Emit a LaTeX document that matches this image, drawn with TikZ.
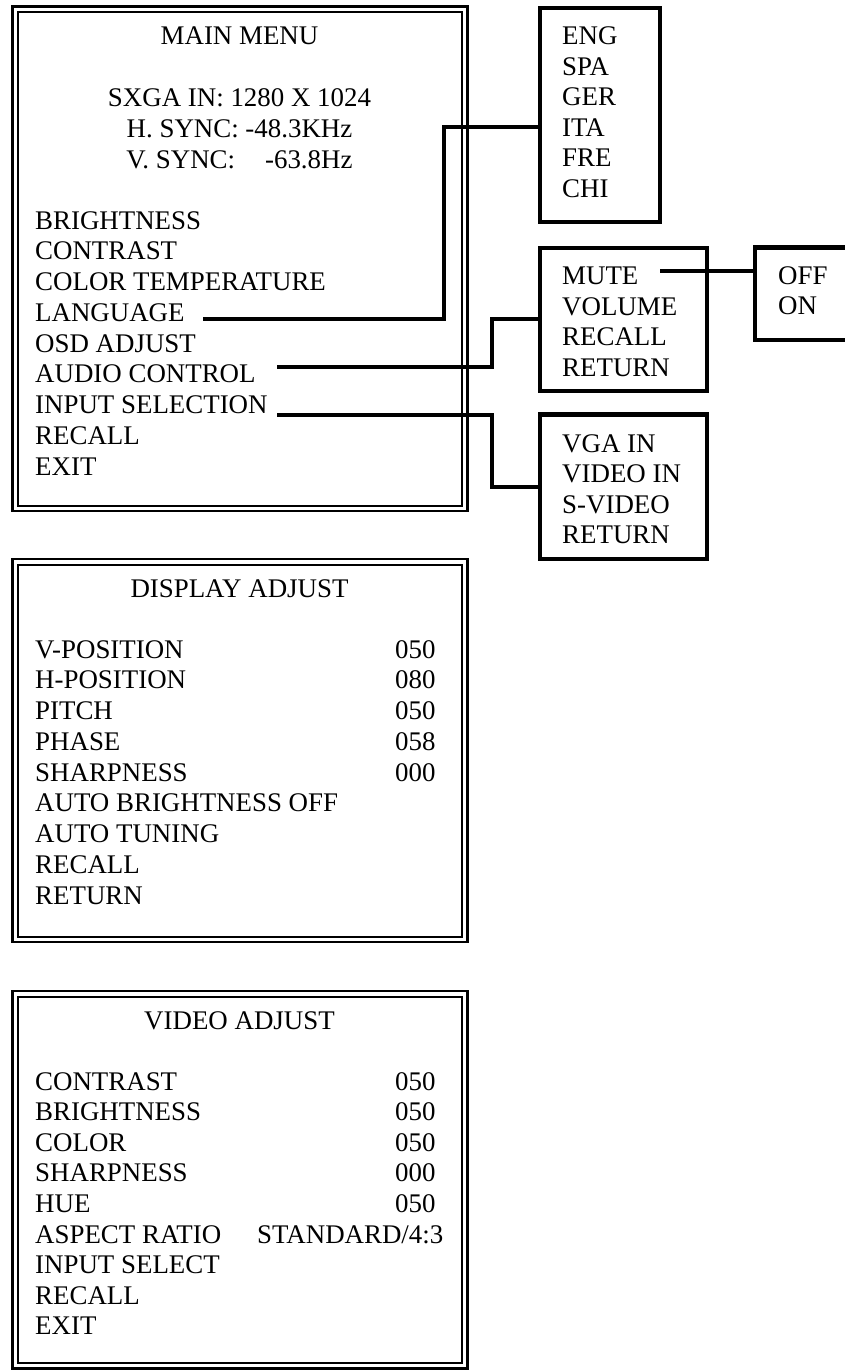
\documentclass[tikz,border=0pt]{standalone}
\usepackage{fontspec}
\setmainfont{Liberation Serif}
\newcommand\menufont{\fontsize{26.9}{30}\selectfont}
\tikzset{
  outerframe/.style={draw, line width=2.5pt, inner sep=0pt, outer sep=0pt, anchor=north west},
  innerframe/.style={draw, line width=2pt, inner sep=0pt, outer sep=0pt, anchor=north west},
  subbox/.style={draw, line width=4.5pt, inner sep=0pt, outer sep=0pt, anchor=north west},
  conn/.style={line width=4pt, line join=miter},
  item/.style={anchor=base west, inner sep=0pt, font=\menufont},
  ttl/.style={anchor=base, inner sep=0pt, font=\menufont},
  val/.style={anchor=base west, inner sep=0pt, font=\menufont},
}
\begin{document}
\begin{tikzpicture}[x=1pt,y=-1pt]
\clip (0,0) rectangle (845,1370);
\fill[white] (0,0) rectangle (845,1370);

% ---------- MAIN MENU ----------
\node[outerframe, minimum width=455pt, minimum height=504.5pt] (mainO) at (12.5,6.5) {};
\node[innerframe, minimum width=444pt, minimum height=493.5pt] (mainI) at (18,12) {};
\node[ttl] (mt) at (239.5,45) {MAIN MENU};
\node[ttl] (mt1) at (239.5,106.5) {SXGA IN: 1280 X 1024};
\node[ttl] (mt2) at (239.5,137.2) {H. SYNC: -48.3KHz};
\node[ttl] (mt3) at (239.5,168) {V. SYNC:\hspace{30pt}-63.8Hz};
\foreach \t [count=\i from 0] in {BRIGHTNESS,CONTRAST,COLOR TEMPERATURE,LANGUAGE,OSD ADJUST,AUDIO CONTROL,INPUT SELECTION,RECALL,EXIT}
  \node[item] (m\i) at (35,229+30.75*\i) {\t};

% ---------- LANGUAGE submenu ----------
\node[subbox, minimum width=120pt, minimum height=214pt] (langbox) at (540,8) {};
\foreach \t [count=\i from 0] in {ENG,SPA,GER,ITA,FRE,CHI}
  \node[item] (l\i) at (562,44.5+30.6*\i) {\t};

% ---------- AUDIO submenu ----------
\node[subbox, minimum width=167pt, minimum height=143pt] (audiobox) at (540,248) {};
\foreach \t [count=\i from 0] in {MUTE,VOLUME,RECALL,RETURN}
  \node[item] (a\i) at (562,284.5+30.6*\i) {\t};

% ---------- MUTE submenu ----------
\node[subbox, minimum width=97pt, minimum height=92.5pt] (mutebox) at (755,247.5) {};
\node[item] (o0) at (778,284.5) {OFF};
\node[item] (o1) at (778,314.5) {ON};

% ---------- INPUT submenu ----------
\node[subbox, minimum width=167pt, minimum height=144.5pt] (inputbox) at (540,414.5) {};
\foreach \t [count=\i from 0] in {VGA IN,VIDEO IN,S-VIDEO,RETURN}
  \node[item] (i\i) at (562,452+30.6*\i) {\t};

% ---------- connectors ----------
\coordinate (langS) at (203,319);
\coordinate (langK) at (444,319);
\coordinate (langT) at (444,127);
\draw[conn] (langS) -- (langK) -- (langT) -- (langbox.west |- langT);

\coordinate (audS) at (277,367);
\coordinate (audK) at (492,367);
\coordinate (audT) at (492,319);
\draw[conn] (audS) -- (audK) -- (audT) -- (audiobox.west |- audT);

\coordinate (inS) at (277,414.5);
\coordinate (inK) at (492,414.5);
\coordinate (inT) at (492,487);
\draw[conn] (inS) -- (inK) -- (inT) -- (inputbox.west |- inT);

\coordinate (muteS) at (660,271);
\draw[conn] (muteS) -- (mutebox.west |- muteS);

% ---------- DISPLAY ADJUST ----------
\node[outerframe, minimum width=455pt, minimum height=383pt] (dispO) at (12.5,559) {};
\node[innerframe, minimum width=444pt, minimum height=372pt] (dispI) at (18,564.5) {};
\node[ttl] (dt) at (239.5,597) {DISPLAY ADJUST};
\foreach \t [count=\i from 0] in {V-POSITION,H-POSITION,PITCH,PHASE,SHARPNESS,AUTO BRIGHTNESS OFF,AUTO TUNING,RECALL,RETURN}
  \node[item] (d\i) at (35,658+30.75*\i) {\t};
\foreach \v [count=\i from 0] in {050,080,050,058,000}
  \node[val] (dv\i) at (395,658+30.75*\i) {\v};

% ---------- VIDEO ADJUST ----------
\node[outerframe, minimum width=455pt, minimum height=377.5pt] (vidO) at (12.5,991) {};
\node[innerframe, minimum width=444pt, minimum height=366.5pt] (vidI) at (18,996.5) {};
\node[ttl] (vt) at (239.5,1029) {VIDEO ADJUST};
\foreach \t [count=\i from 0] in {CONTRAST,BRIGHTNESS,COLOR,SHARPNESS,HUE,ASPECT RATIO,INPUT SELECT,RECALL,EXIT}
  \node[item] (v\i) at (35,1090+30.6*\i) {\t};
\foreach \v [count=\i from 0] in {050,050,050,000,050}
  \node[val] (vv\i) at (395,1090+30.6*\i) {\v};
\node[val] (vv5) at (257,1243) {STANDARD/4:3};
\end{tikzpicture}
\end{document}
